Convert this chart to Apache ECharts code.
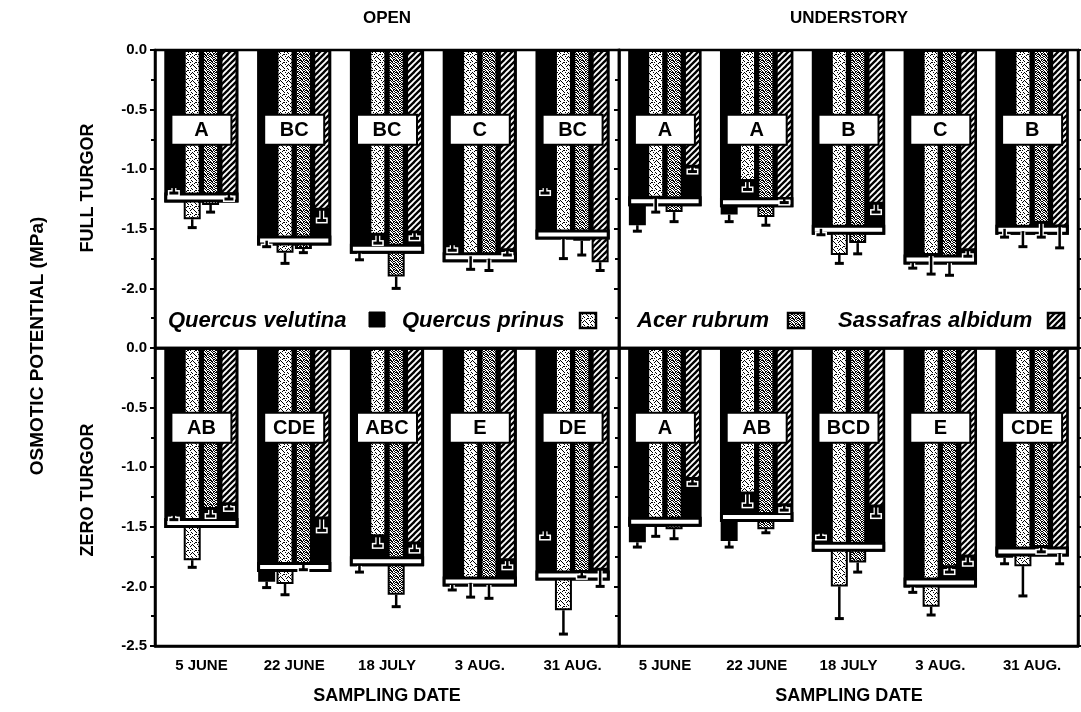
<!DOCTYPE html>
<html><head><meta charset="utf-8">
<script src="https://cdn.jsdelivr.net/npm/echarts@6/dist/echarts.min.js"></script>
<style>html,body{margin:0;padding:0;background:#fff}#c{width:1081px;height:712px}</style>
</head><body><div id="c"></div>
<script>
// ---------------- DATA ----------------
const dates = ['5 JUNE', '22 JUNE', '18 JULY', '3 AUG.', '31 AUG.'];
const speciesNames = ['Quercus velutina', 'Quercus prinus', 'Acer rubrum', 'Sassafras albidum'];

// OPEN, FULL TURGOR
const openFullVelutina = [-1.15, -1.60, -1.70, -1.63, -1.15];
const openFullVelutinaErr = [0.05, 0.05, 0.06, 0.05, 0.05];
const openFullPrinus = [-1.42, -1.70, -1.55, -1.73, -1.58];
const openFullPrinusErr = [0.07, 0.09, 0.07, 0.11, 0.17];
const openFullRubrum = [-1.30, -1.67, -1.90, -1.75, -1.60];
const openFullRubrumErr = [0.06, 0.03, 0.10, 0.10, 0.12];
const openFullAlbidum = [-1.21, -1.34, -1.53, -1.68, -1.78];
const openFullAlbidumErr = [0.04, 0.09, 0.05, 0.04, 0.07];
const openFullMean = [-1.28, -1.64, -1.71, -1.78, -1.59];
const openFullLetters = ['A', 'BC', 'BC', 'C', 'BC'];

// UNDERSTORY, FULL TURGOR
const undFullVelutina = [-1.47, -1.38, -1.50, -1.78, -1.50];
const undFullVelutinaErr = [0.05, 0.06, 0.05, 0.05, 0.07];
const undFullPrinus = [-1.24, -1.10, -1.72, -1.72, -1.52];
const undFullPrinusErr = [0.12, 0.07, 0.07, 0.16, 0.13];
const undFullRubrum = [-1.36, -1.40, -1.62, -1.78, -1.45];
const undFullRubrumErr = [0.08, 0.07, 0.09, 0.11, 0.12];
const undFullAlbidum = [-0.98, -1.25, -1.29, -1.68, -1.48];
const undFullAlbidumErr = [0.04, 0.03, 0.07, 0.05, 0.18];
const undFullMean = [-1.31, -1.32, -1.55, -1.80, -1.55];
const undFullLetters = ['A', 'A', 'B', 'C', 'B'];

// OPEN, ZERO TURGOR
const openZeroVelutina = [-1.40, -1.96, -1.82, -1.98, -1.53];
const openZeroVelutinaErr = [0.04, 0.05, 0.06, 0.05, 0.06];
const openZeroPrinus = [-1.78, -1.98, -1.58, -1.97, -2.20];
const openZeroPrinusErr = [0.06, 0.09, 0.08, 0.12, 0.20];
const openZeroRubrum = [-1.35, -1.82, -2.07, -1.98, -1.88];
const openZeroRubrumErr = [0.06, 0.04, 0.10, 0.12, 0.04];
const openZeroAlbidum = [-1.31, -1.43, -1.64, -1.78, -1.86];
const openZeroAlbidumErr = [0.04, 0.10, 0.06, 0.06, 0.14];
const openZeroMean = [-1.51, -1.88, -1.83, -2.00, -1.95];
const openZeroLetters = ['AB', 'CDE', 'ABC', 'E', 'DE'];

// UNDERSTORY, ZERO TURGOR
const undZeroVelutina = [-1.63, -1.62, -1.55, -2.00, -1.76];
const undZeroVelutinaErr = [0.04, 0.05, 0.04, 0.05, 0.05];
const undZeroPrinus = [-1.50, -1.22, -2.00, -2.17, -1.83];
const undZeroPrinusErr = [0.08, 0.10, 0.27, 0.07, 0.25];
const undZeroRubrum = [-1.52, -1.52, -1.80, -1.84, -1.67];
const undZeroRubrumErr = [0.08, 0.03, 0.08, 0.04, 0.04];
const undZeroAlbidum = [-1.10, -1.32, -1.33, -1.75, -1.72];
const undZeroAlbidumErr = [0.04, 0.04, 0.08, 0.06, 0.09];
const undZeroMean = [-1.50, -1.46, -1.71, -2.01, -1.75];
const undZeroLetters = ['A', 'AB', 'BCD', 'E', 'CDE'];

const yMin = -2.5, yMax = 0, yStep = 0.5;
const letterBoxLevel = -0.67;

// ---------------- PATTERNS ----------------
function makeTile(w, h, draw) {
  const c = document.createElement('canvas'); c.width = w; c.height = h;
  const g = c.getContext('2d'); g.fillStyle = '#fff'; g.fillRect(0, 0, w, h);
  g.fillStyle = '#000'; g.strokeStyle = '#000'; draw(g); return c;
}
const lightTile = makeTile(8, 8, g => {
  [[1,1],[5,0],[3,3],[7,4],[0,5],[4,6],[6,2],[2,7],[2,2],[6,6],[4,4],[0,0],[7,1],[3,6]].forEach(p => g.fillRect(p[0], p[1], 1, 1));
});
const darkTile = makeTile(6, 6, g => {
  [[0,0],[1,0],[3,0],[4,1],[2,1],[5,2],[0,2],[1,3],[3,3],[4,3],[2,4],[5,4],[0,5],[3,5],[4,5],[1,1],[5,0],[2,2]].forEach(p => g.fillRect(p[0], p[1], 1, 1));
});
const hatchTile = makeTile(6, 6, g => {
  g.lineWidth = 2.3;
  for (let k = -6; k <= 12; k += 6) { g.beginPath(); g.moveTo(k - 1, 7); g.lineTo(k + 7, -1); g.stroke(); }
});
const fills = ['#000', { image: lightTile, repeat: 'repeat' }, { image: darkTile, repeat: 'repeat' }, { image: hatchTile, repeat: 'repeat' }];

// ---------------- LAYOUT ----------------
const FONT = '"Liberation Sans", Arial, Helvetica, sans-serif';
const BW = 17, GAP = BW * 0.08;
const RECT_FRAC = 0.8;
function barOffset(s) { const total = 4 * BW + 3 * GAP; return -total / 2 + BW / 2 + s * (BW + GAP); }

const panels = [
  { v: [openFullVelutina, openFullPrinus, openFullRubrum, openFullAlbidum], e: [openFullVelutinaErr, openFullPrinusErr, openFullRubrumErr, openFullAlbidumErr], mean: openFullMean, letters: openFullLetters },
  { v: [undFullVelutina, undFullPrinus, undFullRubrum, undFullAlbidum], e: [undFullVelutinaErr, undFullPrinusErr, undFullRubrumErr, undFullAlbidumErr], mean: undFullMean, letters: undFullLetters },
  { v: [openZeroVelutina, openZeroPrinus, openZeroRubrum, openZeroAlbidum], e: [openZeroVelutinaErr, openZeroPrinusErr, openZeroRubrumErr, openZeroAlbidumErr], mean: openZeroMean, letters: openZeroLetters },
  { v: [undZeroVelutina, undZeroPrinus, undZeroRubrum, undZeroAlbidum], e: [undZeroVelutinaErr, undZeroPrinusErr, undZeroRubrumErr, undZeroAlbidumErr], mean: undZeroMean, letters: undZeroLetters }
];

const gridDefs = [
  { left: 155, top: 50, width: 464, height: 298 },
  { left: 619, top: 50, width: 459, height: 298 },
  { left: 155, top: 348, width: 464, height: 298 },
  { left: 619, top: 348, width: 459, height: 298 }
];

const grid = gridDefs.map(g => Object.assign({ show: true, borderColor: '#000', borderWidth: 2.5, containLabel: false }, g));

const xAxis = gridDefs.map((g, k) => ({
  type: 'category', gridIndex: k, data: dates,
  axisLine: { onZero: false, lineStyle: { color: '#000', width: 2.5 } },
  axisTick: { show: false },
  axisLabel: { show: k >= 2, color: '#000', fontFamily: FONT, fontWeight: 'bold', fontSize: 15, margin: 12 }
}));

const yAxis = [];
gridDefs.forEach((g, k) => {
  const top = k < 2;
  yAxis.push({
    type: 'value', gridIndex: k, min: yMin, max: yMax, interval: yStep, position: 'left',
    splitLine: { show: false },
    axisLine: { show: true, lineStyle: { color: '#000', width: 2.5 } },
    axisTick: { show: true, length: 5, lineStyle: { color: '#000', width: 2 } },
    minorTick: { show: true, splitNumber: 2, length: 4, lineStyle: { color: '#000', width: 2 } },
    axisLabel: {
      show: k % 2 === 0, color: '#000', fontFamily: FONT, fontWeight: 'bold', fontSize: 15, margin: 8,
      formatter: v => (top && v === yMin) ? '' : (v === 0 ? '0.0' : v.toFixed(1))
    }
  });
});
[1, 3].forEach(k => {
  yAxis.push({
    type: 'value', gridIndex: k, min: yMin, max: yMax, interval: yStep, position: 'right',
    splitLine: { show: false },
    axisLine: { show: true, lineStyle: { color: '#000', width: 2.5 } },
    axisTick: { show: true, length: 5, lineStyle: { color: '#000', width: 2 } },
    minorTick: { show: true, splitNumber: 2, length: 4, lineStyle: { color: '#000', width: 2 } },
    axisLabel: { show: false }
  });
});

const series = [];
panels.forEach((p, k) => {
  series.push({
    type: 'custom', xAxisIndex: k, yAxisIndex: k, z: 1, silent: true,
    data: p.mean.map((m, i) => [i, m]),
    renderItem: (params, api) => {
      const i = api.value(0), m = api.value(1);
      const p0 = api.coord([i, 0]), p1 = api.coord([i, m]);
      const w = api.size([1, 0])[0] * RECT_FRAC;
      return { type: 'rect', shape: { x: p0[0] - w / 2, y: p0[1], width: w, height: p1[1] - p0[1] }, style: { fill: '#000' } };
    }
  });
  p.v.forEach((vals, s) => {
    series.push({
      type: 'bar', name: speciesNames[s], xAxisIndex: k, yAxisIndex: k, z: 2,
      barWidth: BW, barGap: '8%', data: vals,
      itemStyle: { color: fills[s], borderColor: '#000', borderWidth: s === 0 ? 0 : 2 },
      silent: true
    });
  });
  series.push({
    type: 'custom', xAxisIndex: k, yAxisIndex: k, z: 4, silent: true,
    data: p.mean.map((m, i) => [i, m]),
    renderItem: (params, api) => {
      const i = api.value(0), m = api.value(1);
      const p0 = api.coord([i, 0]), p1 = api.coord([i, m]);
      const w = api.size([1, 0])[0] * RECT_FRAC;
      const x = p0[0] - w / 2;
      return { type: 'group', children: [
        { type: 'rect', shape: { x: x, y: p1[1] - 10, width: w, height: 10 }, style: { fill: '#000' } },
        { type: 'rect', shape: { x: x + 3, y: p1[1] - 7, width: w - 6, height: 4 }, style: { fill: '#fff' } }
      ] };
    }
  });
  const errData = [];
  p.v.forEach((vals, s) => vals.forEach((v, i) => errData.push([i, v, p.e[s][i], s])));
  series.push({
    type: 'custom', xAxisIndex: k, yAxisIndex: k, z: 5, silent: true,
    data: errData,
    renderItem: (params, api) => {
      const i = api.value(0), v = api.value(1), e = api.value(2), s = api.value(3);
      const a = api.coord([i, v]), b = api.coord([i, v - e]);
      const x = a[0] + barOffset(s);
      return { type: 'group', children: [
        { type: 'line', shape: { x1: x, y1: a[1] + 1, x2: x, y2: b[1] }, style: { stroke: '#fff', lineWidth: 5 } },
        { type: 'line', shape: { x1: x - 6, y1: b[1], x2: x + 6, y2: b[1] }, style: { stroke: '#fff', lineWidth: 6 } },
        { type: 'line', shape: { x1: x, y1: a[1], x2: x, y2: b[1] }, style: { stroke: '#000', lineWidth: 2.5 } },
        { type: 'line', shape: { x1: x - 4.5, y1: b[1], x2: x + 4.5, y2: b[1] }, style: { stroke: '#000', lineWidth: 3 } }
      ] };
    }
  });
  series.push({
    type: 'custom', xAxisIndex: k, yAxisIndex: k, z: 6, silent: true,
    data: p.letters.map((t, i) => [i, letterBoxLevel]),
    renderItem: (params, api) => {
      const i = api.value(0);
      const c = api.coord([i, api.value(1)]);
      const t = p.letters[i];
      return { type: 'group', children: [
        { type: 'rect', shape: { x: c[0] - 30, y: c[1] - 15, width: 60, height: 30 }, style: { fill: '#fff', stroke: '#000', lineWidth: 2 } },
        { type: 'text', style: { x: c[0], y: c[1] + 1, text: t, textAlign: 'center', textVerticalAlign: 'middle', fontFamily: FONT, fontWeight: 'bold', fontSize: 20, fill: '#000' } }
      ] };
    }
  });
});

function label(x, y, text, size, o) {
  o = o || {};
  return { type: 'text', x: x, y: y, rotation: o.rot || 0, style: { text: text, fontFamily: FONT, fontWeight: 'bold', fontStyle: o.italic ? 'italic' : 'normal', fontSize: size, fill: '#000', textAlign: o.align || 'center', textVerticalAlign: 'middle' } };
}
function swatch(x, y, fill, border) {
  return { type: 'rect', shape: { x: x, y: y, width: 16, height: 15 }, style: { fill: fill, stroke: '#000', lineWidth: border } };
}

const graphic = [
  label(387, 18, 'OPEN', 17),
  label(849, 18, 'UNDERSTORY', 17),
  label(38, 346, 'OSMOTIC POTENTIAL (MPa)', 19, { rot: Math.PI / 2 }),
  label(88, 188, 'FULL TURGOR', 18, { rot: Math.PI / 2 }),
  label(88, 490, 'ZERO TURGOR', 18, { rot: Math.PI / 2 }),
  label(387, 696, 'SAMPLING DATE', 18),
  label(849, 696, 'SAMPLING DATE', 18),
  label(168, 321, speciesNames[0], 22, { italic: true, align: 'left' }),
  swatch(369, 312, '#000', 1),
  label(402, 321, speciesNames[1], 22, { italic: true, align: 'left' }),
  swatch(580, 313, fills[1], 2.5),
  label(637, 321, speciesNames[2], 22, { italic: true, align: 'left' }),
  swatch(788, 313, fills[2], 2.5),
  label(838, 321, speciesNames[3], 22, { italic: true, align: 'left' }),
  swatch(1048, 313, fills[3], 2.5)
];

const chart = echarts.init(document.getElementById('c'), null, { renderer: 'canvas' });
chart.setOption({ animation: false, backgroundColor: '#fff', grid: grid, xAxis: xAxis, yAxis: yAxis, series: series, graphic: graphic });
</script>
</body></html>
